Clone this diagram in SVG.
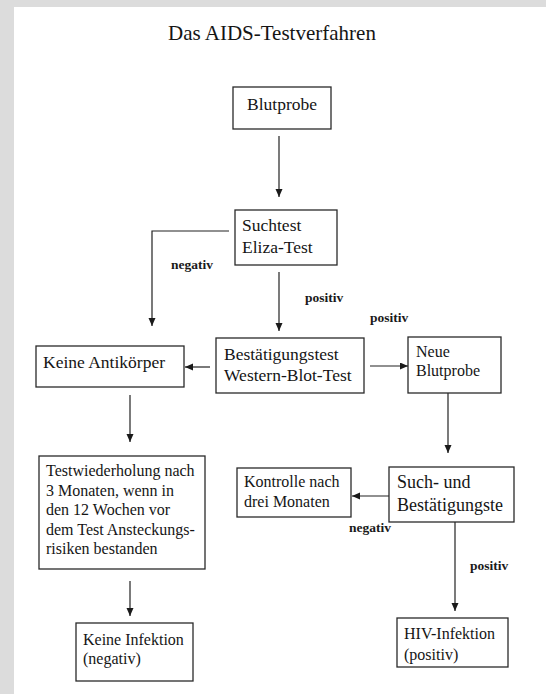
<svg xmlns="http://www.w3.org/2000/svg" width="546" height="694" viewBox="0 0 546 694">
  <style>
    .box { fill: #ffffff; stroke: #2a2a2a; stroke-width: 1.3; }
    .t { font-family: "Liberation Serif", "Times New Roman", serif; fill: #151515; font-size: 17.5px; }
    .sm { font-size: 16px; }
    .lg { font-size: 18px; }
    .lbl { font-family: "Liberation Serif", "Times New Roman", serif; fill: #1a1a1a; font-size: 13.5px; font-weight: bold; }
    .title { font-family: "Liberation Serif", "Times New Roman", serif; fill: #151515; font-size: 21px; }
    .edge { fill: none; stroke: #222222; stroke-width: 1.2; }
  </style>
  <defs>
    <marker id="arrow" markerUnits="userSpaceOnUse" markerWidth="9" markerHeight="8" refX="8" refY="3.5" orient="auto">
      <path d="M0,0 L8,3.5 L0,7 z" fill="#1a1a1a"/>
    </marker>
  </defs>

  <!-- page background with grey margin -->
  <rect x="0" y="0" width="546" height="694" fill="#dcdcdc"/>
  <rect x="14" y="7" width="532" height="687" fill="#ffffff"/>

  <text class="title" x="168" y="40">Das AIDS-Testverfahren</text>

  <!-- connectors -->
  <g id="connectors">
    <line class="edge" x1="279" y1="136" x2="279" y2="197" marker-end="url(#arrow)"/>
    <polyline class="edge" points="229,231 152,231 152,326" marker-end="url(#arrow)"/>
    <line class="edge" x1="279" y1="272" x2="279" y2="331" marker-end="url(#arrow)"/>
    <line class="edge" x1="210" y1="367" x2="185" y2="367" marker-end="url(#arrow)"/>
    <line class="edge" x1="370" y1="366" x2="408" y2="366" marker-end="url(#arrow)"/>
    <line class="edge" x1="448" y1="393" x2="448" y2="453" marker-end="url(#arrow)"/>
    <line class="edge" x1="389" y1="496" x2="352" y2="496" marker-end="url(#arrow)"/>
    <line class="edge" x1="455" y1="522" x2="455" y2="611" marker-end="url(#arrow)"/>
    <line class="edge" x1="130" y1="395" x2="130" y2="442" marker-end="url(#arrow)"/>
    <line class="edge" x1="130" y1="581" x2="130" y2="616" marker-end="url(#arrow)"/>

    <text class="lbl" x="171" y="269">negativ</text>
    <text class="lbl" x="305" y="302">positiv</text>
    <text class="lbl" x="370" y="322">positiv</text>
    <text class="lbl" x="349" y="532">negativ</text>
    <text class="lbl" x="470" y="570">positiv</text>
  </g>

  <!-- nodes -->
  <g id="blutprobe">
    <rect class="box" x="233" y="87" width="98" height="42"/>
    <text class="t" x="247" y="110">Blutprobe</text>
  </g>

  <g id="suchtest">
    <rect class="box" x="235" y="210" width="102" height="55"/>
    <text class="t" x="242" y="231">Suchtest</text>
    <text class="t" x="242" y="253">Eliza-Test</text>
  </g>

  <g id="keine-antikoerper">
    <rect class="box" x="36" y="346" width="148" height="41"/>
    <text class="t" x="43" y="368">Keine Antikörper</text>
  </g>

  <g id="bestaetigungstest">
    <rect class="box" x="216" y="338" width="148" height="55"/>
    <text class="t" x="224" y="360">Bestätigungstest</text>
    <text class="t" x="224" y="381">Western-Blot-Test</text>
  </g>

  <g id="neue-blutprobe">
    <rect class="box" x="408" y="337" width="93" height="56"/>
    <text class="t sm" x="416" y="357">Neue</text>
    <text class="t sm" x="416" y="376">Blutprobe</text>
  </g>

  <g id="testwiederholung">
    <rect class="box" x="39" y="456" width="166" height="113"/>
    <text class="t sm" x="46" y="476">Testwiederholung nach</text>
    <text class="t sm" x="46" y="495.5">3 Monaten, wenn in</text>
    <text class="t sm" x="46" y="515">den 12 Wochen vor</text>
    <text class="t sm" x="46" y="534.5">dem Test Ansteckungs-</text>
    <text class="t sm" x="46" y="554">risiken bestanden</text>
  </g>

  <g id="kontrolle">
    <rect class="box" x="237" y="468" width="114" height="49"/>
    <text class="t sm" x="244" y="487">Kontrolle nach</text>
    <text class="t sm" x="244" y="507">drei Monaten</text>
  </g>

  <g id="such-und-bestaetigung">
    <rect class="box" x="389" y="467" width="125" height="55"/>
    <text class="t lg" x="397" y="488">Such- und</text>
    <text class="t lg" x="397" y="511">Bestätigungste</text>
  </g>

  <g id="keine-infektion">
    <rect class="box" x="76" y="623" width="117" height="58"/>
    <text class="t sm" x="83" y="645">Keine Infektion</text>
    <text class="t sm" x="83" y="664">(negativ)</text>
  </g>

  <g id="hiv-infektion">
    <rect class="box" x="397" y="618" width="111" height="49"/>
    <text class="t sm" x="404" y="639">HIV-Infektion</text>
    <text class="t sm" x="404" y="660">(positiv)</text>
  </g>
</svg>
